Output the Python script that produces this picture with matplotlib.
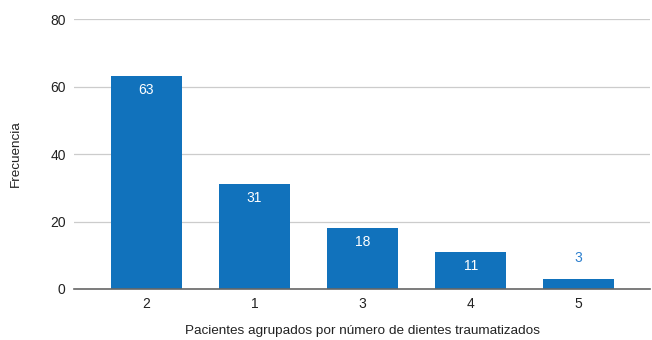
import matplotlib.pyplot as plt

categories = ['2', '1', '3', '4', '5']
frecuencia = [63, 31, 18, 11, 3]
y_ticks = [0, 20, 40, 60, 80]

plt.rcParams['font.family'] = ['Liberation Sans', 'DejaVu Sans']

fig = plt.figure(figsize=(6.52, 3.4), dpi=100)
ax = fig.add_axes([0.1135, 0.15, 0.8835, 0.794])

x = range(len(categories))
bars = ax.bar(x, frecuencia, width=0.66, color='#1172bc', zorder=3)

for xi, v in zip(x, frecuencia):
    if v >= 8:
        ax.annotate(str(v), (xi, v), xytext=(0, -10), textcoords='offset points',
                    ha='center', va='center', color='white', fontsize=10)
    else:
        ax.annotate(str(v), (xi, v), xytext=(0, 15), textcoords='offset points',
                    ha='center', va='center', color='#2b7fce', fontsize=10)

ax.set_xlim(-0.67, len(categories) - 1 + 0.66)
ax.set_ylim(0, 80)
ax.set_yticks(y_ticks)
ax.set_xticks(list(x))
ax.set_xticklabels(categories)
ax.grid(axis='y', color='#cccccc', linewidth=0.9, zorder=0)
for s in ['top', 'right', 'left']:
    ax.spines[s].set_visible(False)
ax.spines['bottom'].set_color('#666666')
ax.spines['bottom'].set_linewidth(1.2)
ax.spines['bottom'].set_zorder(4)
ax.tick_params(axis='both', length=0, labelsize=10, colors='#222222', pad=6)

ax.set_ylabel('Frecuencia', fontsize=9.7, color='#222222', labelpad=20)
ax.xaxis.set_label_coords(0.5, -0.155)
ax.set_xlabel('Pacientes agrupados por número de dientes traumatizados',
              fontsize=9.7, color='#222222', va='center')

fig.savefig('out.png', dpi=100)
